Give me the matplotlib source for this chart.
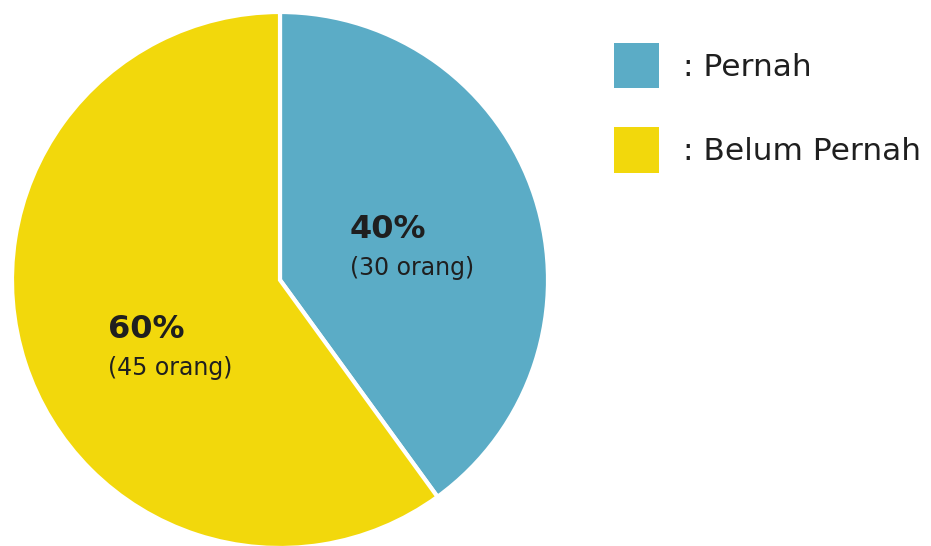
import matplotlib
matplotlib.use('Agg')
import matplotlib.pyplot as plt
from matplotlib.patches import Patch

# data
labels = ['Pernah', 'Belum Pernah']
counts = [30, 45]
colors = ['#5BACC6', '#F2D80C']
# label anchor (data coords, left aligned) for each slice
label_pos = [(0.26, 0.19), (-0.64, -0.185)]

total = sum(counts)

fig = plt.figure(figsize=(9.31, 5.46), dpi=100)
ax = fig.add_axes([12 / 931, -2 / 546, 536 / 931, 536 / 546])

ax.pie(counts, colors=colors, startangle=90, counterclock=False, radius=1,
       wedgeprops=dict(edgecolor='white', linewidth=3))
ax.set_xlim(-1, 1)
ax.set_ylim(-1, 1)
ax.set_aspect('equal')
ax.axis('off')

# persen + jumlah orang
for (x, y), c in zip(label_pos, counts):
    pct = round(c / total * 100)
    ax.text(x, y, f'{pct}%', fontsize=23, fontweight='bold', color='#1f1f1f',
            ha='left', va='center')
    ax.text(x, y - 0.145, f'({c} orang)', fontsize=17, color='#1f1f1f',
            ha='left', va='center')

# legend
handles = [Patch(facecolor=col, edgecolor='none') for col in colors]
fig.legend(handles, [': ' + l for l in labels], loc='upper left',
           bbox_to_anchor=(614 / 931, 1 - 43 / 546), frameon=False,
           fontsize=22.5, handlelength=1.45, handleheight=1.85,
           handletextpad=0.75, labelspacing=1.25, borderpad=0, borderaxespad=0,
           labelcolor='#1f1f1f')

plt.savefig('out.png', dpi=100)
plt.close()
